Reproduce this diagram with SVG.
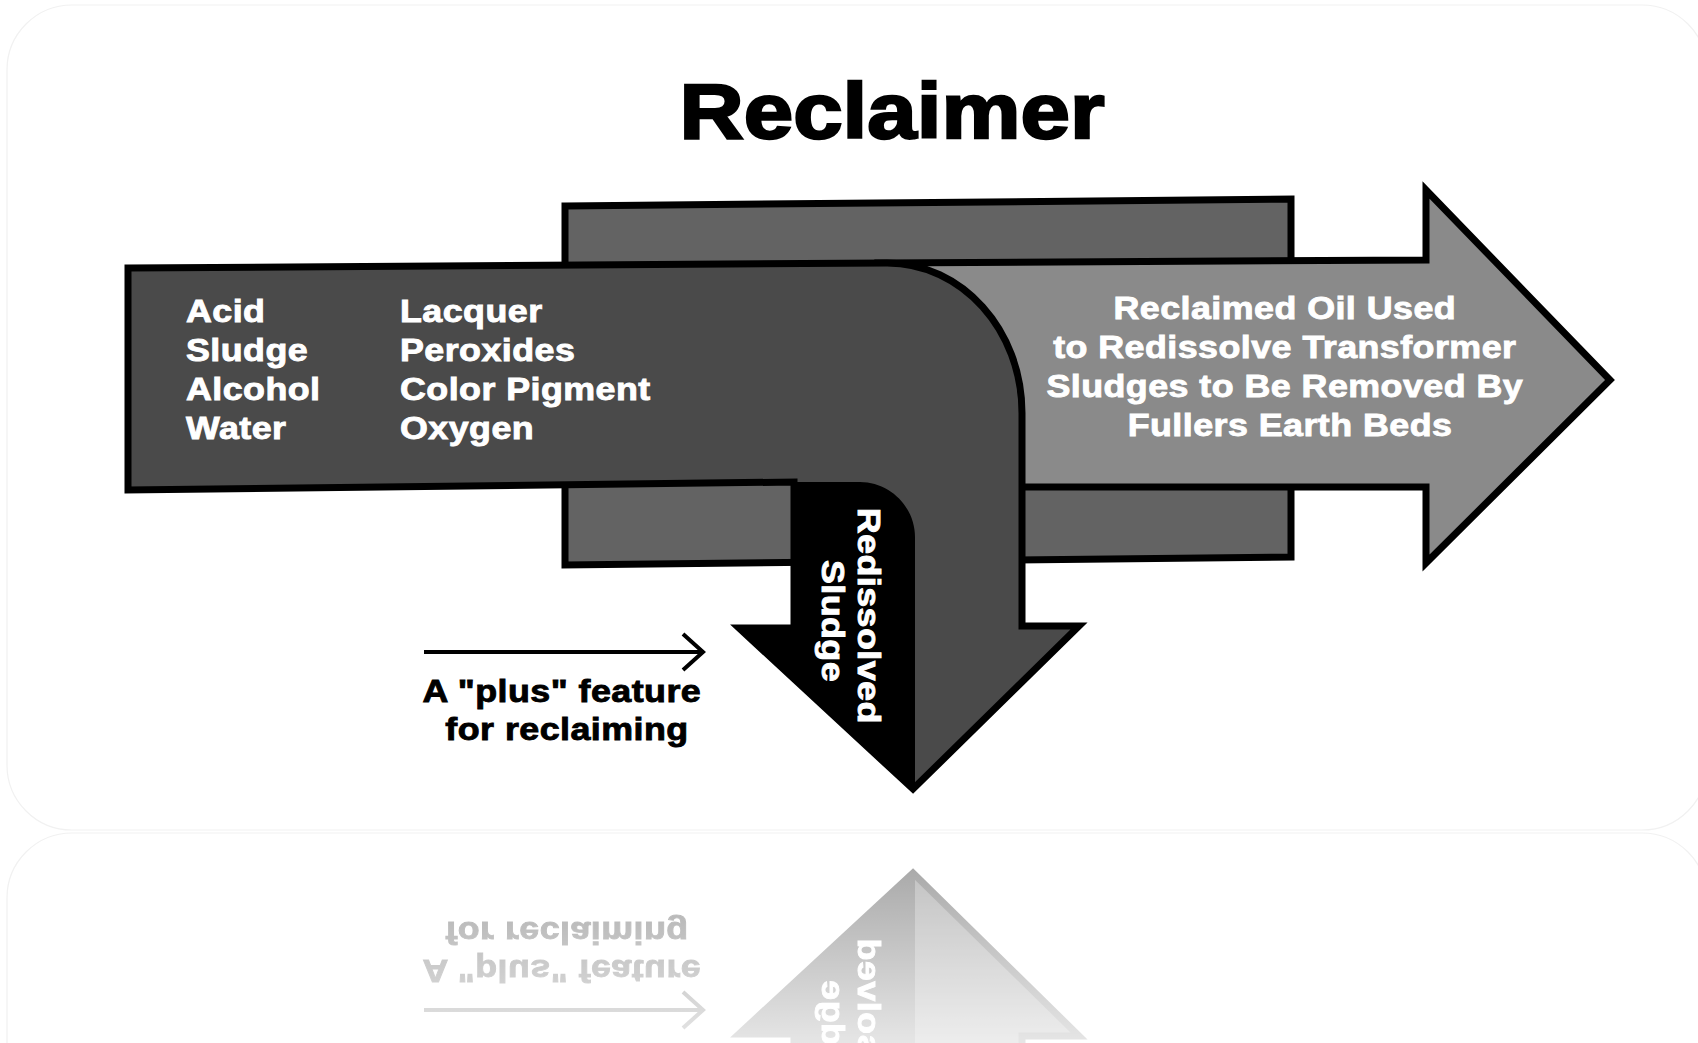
<svg xmlns="http://www.w3.org/2000/svg" xmlns:xlink="http://www.w3.org/1999/xlink" width="1698" height="1043" viewBox="0 0 1698 1043">
  <style>
    .outline { stroke: #000; stroke-width: 7; stroke-linejoin: miter; stroke-miterlimit: 10; }
    .wt { fill: #fff; stroke: #fff; stroke-width: 0.9; font-family: "Liberation Sans", Arial, sans-serif; font-weight: bold; font-size: 32px; letter-spacing: 0.4px; }
    .bt { fill: #000; stroke: #000; stroke-width: 0.9; font-family: "Liberation Sans", Arial, sans-serif; font-weight: bold; font-size: 32px; letter-spacing: 0.4px; }
    .title { fill: #000; stroke: #000; stroke-width: 2.4; font-family: "Liberation Sans", Arial, sans-serif; font-weight: bold; font-size: 78px; }
    .card { fill: none; stroke: #f1f1f1; stroke-width: 1.2; }
  </style>
  <defs>
    <linearGradient id="fade" gradientUnits="userSpaceOnUse" x1="0" y1="835" x2="0" y2="1043">
      <stop offset="0" stop-color="#fff" stop-opacity="0.38"/>
      <stop offset="1" stop-color="#fff" stop-opacity="0.1"/>
    </linearGradient>
    <mask id="reflMask" maskUnits="userSpaceOnUse" x="0" y="833" width="1698" height="210">
      <rect x="0" y="833" width="1698" height="210" fill="url(#fade)"/>
    </mask>
  </defs>

  <rect x="0" y="0" width="1698" height="1043" fill="#fff"/>
  <rect class="card" x="7" y="5" width="1700" height="825" rx="65"/>
  <rect class="card" x="7" y="833" width="1700" height="420" rx="65" stroke="#f5f5f5"/>

  <g id="title">
    <text class="title" x="892" y="138" text-anchor="middle" textLength="425" lengthAdjust="spacingAndGlyphs">Reclaimer</text>
  </g>

  <g id="background-box">
    <path class="outline" d="M565,206 L1291,199 L1291,557 L565,565 Z" fill="#636363"/>
  </g>

  <g id="reclaimed-oil-arrow">
    <path class="outline" d="M880,263 L1426,260 L1426,190 L1610,380 L1426,563 L1426,487 L1000,487 Z" fill="#8a8a8a"/>
    <text class="wt" text-anchor="middle" transform="matrix(1.12 0 0 1 -154.8 0)">
      <tspan x="1290" y="319">Reclaimed Oil Used</tspan>
      <tspan x="1290" y="358">to Redissolve Transformer</tspan>
      <tspan x="1290" y="397">Sludges to Be Removed By</tspan>
      <tspan x="1290" y="436">Fullers Earth Beds</tspan>
    </text>
  </g>

  <g id="sludge-arrow">
    <path d="M128,268 L887,263 C962,263 1022,330 1022,413 L1022,626 L1079,626 L913,789 L739,628 L794,628 L794,482 L128,490 Z" fill="#4a4a4a"/>
    <path d="M794,482 L860,482 C890,482 915,507 915,537 L915,789 L739,628 L794,628 Z" fill="#000"/>
    <path class="outline" d="M128,268 L887,263 C962,263 1022,330 1022,413 L1022,626 L1079,626 L913,789 L739,628 L794,628 L794,482 L128,490 Z" fill="none"/>
    <text class="wt" transform="matrix(1.12 0 0 1 -22.32 0)">
      <tspan x="186" y="322">Acid</tspan>
      <tspan x="186" y="361">Sludge</tspan>
      <tspan x="186" y="400">Alcohol</tspan>
      <tspan x="186" y="439">Water</tspan>
    </text>
    <text class="wt" transform="matrix(1.12 0 0 1 -48 0)">
      <tspan x="400" y="322">Lacquer</tspan>
      <tspan x="400" y="361">Peroxides</tspan>
      <tspan x="400" y="400">Color Pigment</tspan>
      <tspan x="400" y="439">Oxygen</tspan>
    </text>
    <g transform="translate(858,621) rotate(90) scale(1.12,1)">
      <text class="wt" text-anchor="middle">
        <tspan x="0" y="0">Redissolved</tspan>
        <tspan x="0" y="36">Sludge</tspan>
      </text>
    </g>
  </g>

  <g id="plus-note">
    <text class="bt" text-anchor="middle" transform="matrix(1.12 0 0 1 -68.04 0)">
      <tspan x="567" y="702">A "plus" feature</tspan>
      <tspan x="567" y="740">for reclaiming</tspan>
    </text>
  </g>

  <g id="connectors">
    <path d="M424,652 L703,652 M683,634 L703,652 L683,670" fill="none" stroke="#000" stroke-width="4" stroke-linejoin="miter"/>
  </g>

  <g id="reflection" mask="url(#reflMask)">
    <g transform="translate(0,1662) scale(1,-1)">
      <use href="#sludge-arrow" xlink:href="#sludge-arrow"/>
      <use href="#plus-note" xlink:href="#plus-note"/>
      <use href="#connectors" xlink:href="#connectors"/>
    </g>
  </g>
</svg>
